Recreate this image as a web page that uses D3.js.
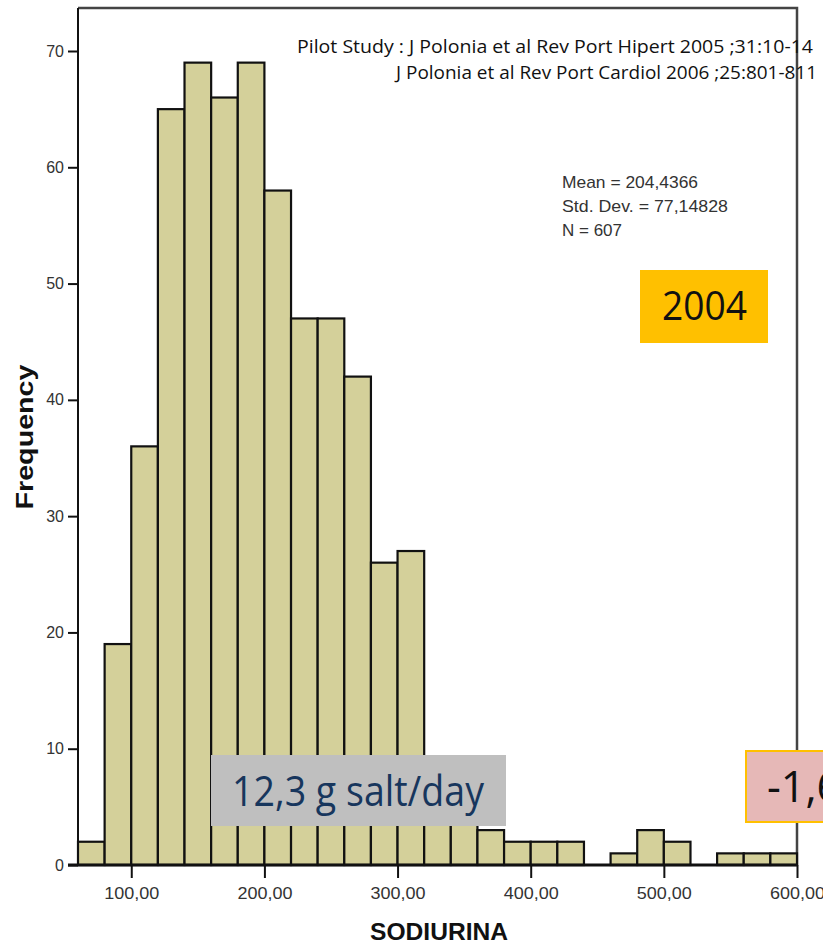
<!DOCTYPE html>
<html>
<head>
<meta charset="utf-8">
<script src="https://cdn.jsdelivr.net/npm/d3@7"></script>
<style>
  body { margin: 0; background: #fff; }
  svg { display: block; }
</style>
</head>
<body>
<div id="chart"></div>
<script>
// histogram bins of SODIURINA (20 wide, 60 to 600)
var binStarts = [60, 80, 100, 120, 140, 160, 180, 200, 220, 240, 260, 280, 300,
                 320, 340, 360, 380, 400, 420, 440, 460, 480, 500, 520, 540, 560, 580];
var counts = [2, 19, 36, 65, 69, 66, 69, 58, 47, 47, 42, 26, 27,
              8, 8, 3, 2, 2, 2, 0, 1, 3, 2, 0, 1, 1, 1];
var binWidth = 20;
var yTicks = [0, 10, 20, 30, 40, 50, 60, 70];
var xTicks = [100, 200, 300, 400, 500, 600];
var statLines = ["Mean = 204,4366", "Std. Dev. = 77,14828", "N = 607"];
var citeLines = ["Pilot Study : J Polonia  et al Rev Port Hipert 2005 ;31:10-14",
                 "J Polonia  et al Rev Port Cardiol 2006 ;25:801-811"];

var width = 823, height = 946;
var plot = {left: 78, right: 797, top: 8, bottom: 865};
var sans = "'Liberation Sans', Arial, sans-serif";
var office = "'Open Sans', sans-serif";

var svg = d3.select("#chart").append("svg")
  .attr("width", width)
  .attr("height", height);

var xScale = d3.scaleLinear()
  .domain([60, 600])
  .range([plot.left, plot.right]);

var yScale = d3.scaleLinear()
  .domain([0, 70])
  .range([plot.bottom, 51]);

// frame (top + right)
svg.append("path")
  .attr("d", "M" + plot.left + "," + plot.top + "H" + plot.right + "V" + plot.bottom)
  .attr("fill", "none")
  .attr("stroke", "#444")
  .attr("stroke-width", 2.5);

// bars
svg.selectAll("rect.bar")
  .data(counts)
  .enter()
  .append("rect")
  .attr("class", "bar")
  .attr("x", function(d, i) { return xScale(binStarts[i]); })
  .attr("y", function(d) { return yScale(d); })
  .attr("width", function(d, i) { return xScale(binStarts[i] + binWidth) - xScale(binStarts[i]); })
  .attr("height", function(d) { return plot.bottom - yScale(d); })
  .attr("fill", "#d4d09a")
  .attr("stroke", "#111")
  .attr("stroke-width", 2.2);

// axes
var yAxis = d3.axisLeft(yScale)
  .tickValues(yTicks)
  .tickSize(10)
  .tickPadding(4);

var xAxis = d3.axisBottom(xScale)
  .tickValues(xTicks)
  .tickSize(13)
  .tickPadding(10)
  .tickFormat(function(d) { return d + ",00"; });

var yAxisGroup = svg.append("g")
  .attr("transform", "translate(" + plot.left + ",0)")
  .call(yAxis);

var xAxisGroup = svg.append("g")
  .attr("transform", "translate(0," + plot.bottom + ")")
  .call(xAxis);

[yAxisGroup, xAxisGroup].forEach(function(g) {
  g.select(".domain").remove();
  g.selectAll("line").attr("stroke", "#111").attr("stroke-width", 2);
  g.selectAll("text")
    .attr("fill", "#333")
    .style("font-family", sans)
    .style("font-size", "16px");
});
xAxisGroup.selectAll("text").attr("textLength", 55).attr("lengthAdjust", "spacingAndGlyphs");

// axis lines
svg.append("line")
  .attr("x1", plot.left).attr("x2", plot.left)
  .attr("y1", plot.top).attr("y2", plot.bottom)
  .attr("stroke", "#111").attr("stroke-width", 2);
svg.append("line")
  .attr("x1", plot.left - 10).attr("x2", plot.right)
  .attr("y1", plot.bottom).attr("y2", plot.bottom)
  .attr("stroke", "#111").attr("stroke-width", 3);

// axis titles
svg.append("text")
  .attr("transform", "translate(33,437) rotate(-90)")
  .attr("text-anchor", "middle")
  .attr("textLength", 145)
  .attr("lengthAdjust", "spacingAndGlyphs")
  .style("font-family", sans)
  .style("font-size", "24px")
  .style("font-weight", "bold")
  .attr("fill", "#111")
  .text("Frequency");

svg.append("text")
  .attr("x", 439)
  .attr("y", 940)
  .attr("text-anchor", "middle")
  .attr("textLength", 138)
  .attr("lengthAdjust", "spacingAndGlyphs")
  .style("font-family", sans)
  .style("font-size", "24px")
  .style("font-weight", "bold")
  .attr("fill", "#111")
  .text("SODIURINA");

// stats
svg.append("g").selectAll("text")
  .data(statLines)
  .enter()
  .append("text")
  .attr("x", 562)
  .attr("y", function(d, i) { return 188 + i * 24; })
  .style("font-family", sans)
  .style("font-size", "17px")
  .attr("fill", "#333")
  .attr("textLength", function(d, i) { return [136, 166, 60][i]; })
  .attr("lengthAdjust", "spacingAndGlyphs")
  .text(function(d) { return d; });

// citation
svg.append("text")
  .attr("x", 297).attr("y", 53)
  .attr("textLength", 516)
  .attr("lengthAdjust", "spacingAndGlyphs")
  .style("font-family", office)
  .style("font-size", "18px")
  .attr("fill", "#111")
  .text(citeLines[0]);
svg.append("text")
  .attr("x", 396).attr("y", 79)
  .attr("textLength", 421)
  .attr("lengthAdjust", "spacingAndGlyphs")
  .style("font-family", office)
  .style("font-size", "18px")
  .attr("fill", "#111")
  .text(citeLines[1]);

// 2004 box
svg.append("rect")
  .attr("x", 640).attr("y", 270).attr("width", 128).attr("height", 73)
  .attr("fill", "#ffc000");
svg.append("text")
  .attr("x", 662).attr("y", 320)
  .attr("textLength", 85)
  .attr("lengthAdjust", "spacingAndGlyphs")
  .style("font-family", office)
  .style("font-size", "41px")
  .attr("fill", "#111")
  .text("2004");

// salt label
svg.append("rect")
  .attr("x", 211).attr("y", 755).attr("width", 295).attr("height", 71)
  .attr("fill", "#bfbfbf");
svg.append("text")
  .attr("x", 232).attr("y", 806)
  .style("font-family", office)
  .style("font-size", "42px")
  .attr("fill", "#17365d")
  .attr("textLength", 252)
  .attr("lengthAdjust", "spacingAndGlyphs")
  .text("12,3 g salt/day");

// pink box, cut off by the page edge as in the source
svg.append("rect")
  .attr("x", 746).attr("y", 751).attr("width", 90).attr("height", 71)
  .attr("fill", "#e6b8b7")
  .attr("stroke", "#ffc000")
  .attr("stroke-width", 2);
svg.append("text")
  .attr("x", 767).attr("y", 802)
  .style("font-family", office)
  .style("font-size", "43px")
  .attr("fill", "#111")
  .text("-1,6");
</script>
</body>
</html>
